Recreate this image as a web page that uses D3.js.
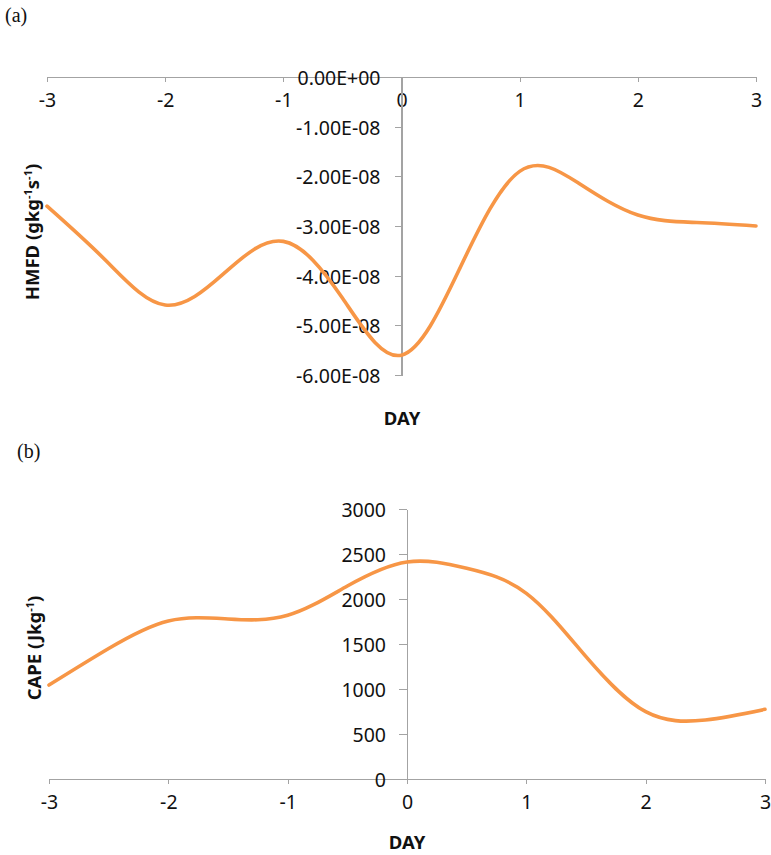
<!DOCTYPE html>
<html>
<head>
<meta charset="utf-8">
<script src="https://cdn.jsdelivr.net/npm/d3@7"></script>
<style>
  html, body { margin: 0; padding: 0; background: #fff; }
  svg { display: block; }
  .tick text { font-family: "Noto Sans", "Open Sans", sans-serif; font-size: 19.5px; fill: #111; }
  .axis path, .axis line { stroke: #a3a3a3; stroke-width: 1.3; shape-rendering: crispEdges; }
  .title { font-family: "Noto Sans", "Open Sans", sans-serif; font-size: 18.5px; font-weight: bold; fill: #111; }
  .panel { font-family: "Liberation Serif", "DejaVu Serif", serif; font-size: 20px; fill: #111; }
</style>
</head>
<body>
<svg id="chart" width="771" height="855"></svg>
<script>
// ---------- data ----------
const days = [-3, -2.5, -2, -1.5, -1, -0.5, 0, 0.5, 1, 1.5, 2, 2.5, 3];
const hmfd = [-2.60e-8, -3.70e-8, -4.59e-8, -3.95e-8, -3.31e-8, -4.45e-8, -5.60e-8,
              -3.82e-8, -1.90e-8, -2.14e-8, -2.78e-8, -2.93e-8, -3.00e-8];
const cape = [1044, 1450, 1756, 1778, 1819, 2144, 2411, 2341, 2063, 1359, 748, 656, 774];

const xTicks = [-3, -2, -1, 0, 1, 2, 3];
const xTickLabels = ["-3", "-2", "-1", "0", "1", "2", "3"];
const hmfdTicks = [0, -1e-8, -2e-8, -3e-8, -4e-8, -5e-8, -6e-8];
const hmfdTickLabels = ["0.00E+00", "-1.00E-08", "-2.00E-08", "-3.00E-08", "-4.00E-08", "-5.00E-08", "-6.00E-08"];
const capeTicks = [0, 500, 1000, 1500, 2000, 2500, 3000];
const capeTickLabels = ["0", "500", "1000", "1500", "2000", "2500", "3000"];

const lineColor = "#F79646";
const svg = d3.select("#chart");

// ---------- panel (a) ----------
const xA = d3.scaleLinear().domain([-3, 3]).range([47, 756]);
const yA = d3.scaleLinear().domain([-6e-8, 0]).range([375, 77]);

svg.append("text").attr("class", "panel").attr("x", 5).attr("y", 22).text("(a)");

svg.append("g").attr("class", "axis")
  .attr("transform", `translate(0,${yA(0)})`)
  .call(d3.axisBottom(xA).tickValues(xTicks).tickFormat((d, i) => xTickLabels[i])
        .tickSize(5).tickSizeOuter(0).tickPadding(17));

svg.append("g").attr("class", "axis")
  .attr("transform", `translate(${xA(0)},0)`)
  .call(d3.axisLeft(yA).tickValues(hmfdTicks)
        .tickFormat((d, i) => hmfdTickLabels[i])
        .tickSize(7).tickSizeOuter(0).tickPadding(14));

const lineA = d3.line().x((d, i) => xA(days[i])).y(d => yA(d)).curve(d3.curveNatural);
svg.append("path").datum(hmfd).attr("d", lineA)
  .attr("fill", "none").attr("stroke", lineColor).attr("stroke-width", 3.6)
  .attr("stroke-linecap", "round").attr("stroke-linejoin", "round");

const tA = svg.append("text").attr("class", "title")
  .attr("transform", `translate(39,232) rotate(-90)`).attr("text-anchor", "middle");
tA.append("tspan").text("HMFD (gkg");
tA.append("tspan").attr("dy", -7).style("font-size", "11px").text("-1");
tA.append("tspan").attr("dy", 7).text("s");
tA.append("tspan").attr("dy", -7).style("font-size", "11px").text("-1");
tA.append("tspan").attr("dy", 7).text(")");

svg.append("text").attr("class", "title").attr("x", 402).attr("y", 425)
  .attr("text-anchor", "middle").text("DAY");

// ---------- panel (b) ----------
const xB = d3.scaleLinear().domain([-3, 3]).range([49, 765]);
const yB = d3.scaleLinear().domain([0, 3000]).range([779, 509]);

svg.append("text").attr("class", "panel").attr("x", 17).attr("y", 458).text("(b)");

svg.append("g").attr("class", "axis")
  .attr("transform", `translate(0,${yB(0)})`)
  .call(d3.axisBottom(xB).tickValues(xTicks).tickFormat((d, i) => xTickLabels[i])
        .tickSize(5).tickSizeOuter(0).tickPadding(17));

svg.append("g").attr("class", "axis")
  .attr("transform", `translate(${xB(0)},0)`)
  .call(d3.axisLeft(yB).tickValues(capeTicks).tickFormat((d, i) => capeTickLabels[i])
        .tickSize(8).tickSizeOuter(0).tickPadding(13));

svg.selectAll(".axis .tick text").attr("dy", null).style("dominant-baseline", "central");

const lineB = d3.line().x((d, i) => xB(days[i])).y(d => yB(d)).curve(d3.curveNatural);
svg.append("path").datum(cape).attr("d", lineB)
  .attr("fill", "none").attr("stroke", lineColor).attr("stroke-width", 3.6)
  .attr("stroke-linecap", "round").attr("stroke-linejoin", "round");

const tB = svg.append("text").attr("class", "title")
  .attr("transform", `translate(41,648) rotate(-90)`).attr("text-anchor", "middle");
tB.append("tspan").text("CAPE (Jkg");
tB.append("tspan").attr("dy", -7).style("font-size", "11px").text("-1");
tB.append("tspan").attr("dy", 7).text(")");

svg.append("text").attr("class", "title").attr("x", 407).attr("y", 849)
  .attr("text-anchor", "middle").text("DAY");
</script>
</body>
</html>
